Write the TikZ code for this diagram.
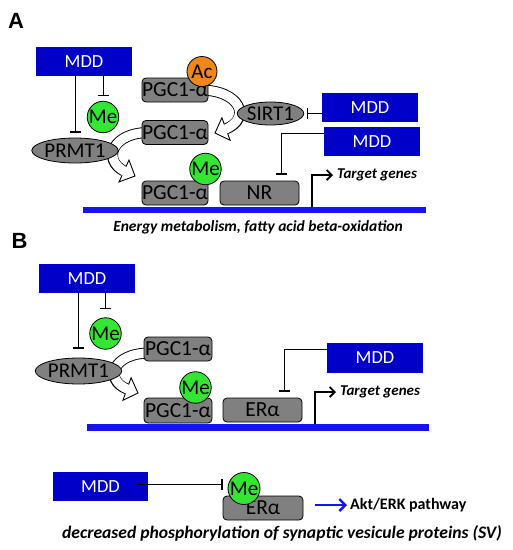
\documentclass[tikz,border=0pt]{standalone}
\usepackage{fontspec}
\setmainfont{Carlito}
\newfontfamily\labfont{Liberation Sans}
\usetikzlibrary{shapes.geometric, arrows.meta, calc}
\definecolor{mddblue}{RGB}{0,0,200}
\definecolor{lineblue}{RGB}{20,20,240}
\definecolor{boxgray}{RGB}{128,128,128}
\definecolor{megreen}{RGB}{50,230,50}
\definecolor{acorange}{RGB}{240,135,30}
\newcommand{\blockarr}[5]{%
  \draw[line width=11pt] #1 .. controls #2 and #3 .. #4;
  \filldraw[fill=white, line width=0.9pt, line join=miter] ($#4!12pt!90:#5$) -- #5 -- ($#4!12pt!-90:#5$) -- cycle;
  \draw[line width=9.2pt, white, shorten >=-1.2pt] #1 .. controls #2 and #3 .. #4;
}
\tikzset{
  mdd/.style={fill=mddblue, draw=none, text=white, minimum width=96pt, minimum height=29pt, inner sep=0pt, font=\fontsize{18.5}{18.5}\selectfont},
  pgc/.style={rounded corners=4pt, fill=boxgray, draw=black, line width=0.8pt, minimum width=66pt, minimum height=24pt, inner sep=0pt, font=\fontsize{21.5}{21.5}\selectfont},
  oval/.style={ellipse, fill=boxgray, draw=black, line width=0.8pt, inner sep=0pt, font=\fontsize{21}{21}\selectfont},
  mecirc/.style={circle, fill=megreen, draw=black, line width=0.8pt, minimum size=31pt, inner sep=0pt, font=\fontsize{21}{21}\selectfont},
  accirc/.style={circle, fill=acorange, draw=black, line width=0.8pt, minimum size=30pt, inner sep=0pt, font=\fontsize{21}{21}\selectfont},
  inh/.style={line width=1pt, -{Bar[width=11pt, line width=1.2pt]}},
  dna/.style={draw=lineblue, line width=6.5pt},
  tgarrow/.style={line width=1.8pt, -{Straight Barb[length=5pt, width=10pt, line width=1.8pt]}},
  tgtext/.style={anchor=west, inner sep=0pt, font=\fontsize{15}{15}\selectfont\bfseries\itshape},
  panellab/.style={inner sep=0pt, font=\fontsize{22}{22}\selectfont\labfont\bfseries},
}
\begin{document}
\begin{tikzpicture}[x=1pt, y=-1pt]
\useasboundingbox[fill=white] (0,0) rectangle (513,550);

% ---------------- Panel A ----------------
\node[panellab] (labA) at (16,21) {A};

\blockarr{(200,90)}{(240,90)}{(252,118)}{(226,129)}{(215,133)}
\blockarr{(150,132.5)}{(112,132)}{(102,160)}{(124,171)}{(135,176)}

\node[mdd] (mddA1) at (84,61.5) {MDD};
\node[oval, minimum width=74pt, minimum height=25pt] (prmtA) at (75,150.5) {PRMT1};
\node[pgc] (pgcA1) at (175,90) {PGC1-α};
\node[pgc] (pgcA2) at (175,132.5) {PGC1-α};
\node[pgc] (pgcA3) at (175,193) {PGC1-α};
\node[pgc, minimum width=79pt] (nrA) at (259.5,193) {NR};
\node[oval, minimum width=63pt, minimum height=23pt] (sirtA) at (270.5,113.5) {SIRT1};
\node[mdd] (mddA2) at (370,107.5) {MDD};
\node[mdd] (mddA3) at (372,141.5) {MDD};
\node[mecirc] (meA1) at (103,117) {Me};
\node[accirc] (acA) at (202,71.5) {Ac};
\node[mecirc] (meA2) at (205.5,169) {Me};

\draw[inh, shorten >=5pt] (prmtA.north |- mddA1.south) -- (prmtA.north);
\draw[inh, shorten >=4.5pt] (meA1.north |- mddA1.south) -- (meA1.north);
\draw[inh, shorten >=3pt] (mddA2.west |- sirtA) -- (sirtA.east);
\draw[inh] ([yshift=8pt]mddA3.west) -| ([xshift=21.5pt, yshift=6pt]nrA.north);

\coordinate (dnaA1) at (83,210);
\coordinate (dnaA2) at (426,210);
\draw[dna] (dnaA1) -- (dnaA2);
\coordinate (tgA) at (312,207);
\node[tgtext] (targetA) at (337,175) {Target genes};
\draw[tgarrow, shorten >=4pt] (tgA) |- (targetA.west);
\node[inner sep=0pt, font=\fontsize{15.5}{15.5}\selectfont\bfseries\itshape] (energy) at (258,227.5) {Energy metabolism, fatty acid beta-oxidation};

% ---------------- Panel B ----------------
\node[panellab] (labB) at (19.5,241) {B};

\blockarr{(150,353)}{(112,353)}{(104,380)}{(127,389)}{(138,393)}

\node[mdd] (mddB1) at (87,278.5) {MDD};
\node[oval, minimum width=73pt, minimum height=26pt] (prmtB) at (78.5,371) {PRMT1};
\node[pgc, minimum width=68pt] (pgcB1) at (178,349) {PGC1-α};
\node[pgc, minimum width=68pt, minimum height=25pt] (pgcB2) at (178,410.5) {PGC1-α};
\node[pgc, minimum width=79pt] (erB) at (262.5,410) {ERα};
\node[mdd, minimum height=30pt] (mddB2) at (375,358) {MDD};
\node[mecirc] (meB1) at (105.5,333.5) {Me};
\node[mecirc] (meB2) at (195.5,387.5) {Me};

\draw[inh, shorten >=9pt] (prmtB.north |- mddB1.south) -- (prmtB.north);
\draw[inh, shorten >=8pt] (meB1.north |- mddB1.south) -- (meB1.north);
\draw[inh] ([yshift=9pt]mddB2.west) -| ([xshift=21.5pt, yshift=6pt]erB.north);

\coordinate (dnaB1) at (87,427.5);
\coordinate (dnaB2) at (429,427.5);
\draw[dna, line width=7pt] (dnaB1) -- (dnaB2);
\coordinate (tgB) at (315,424);
\node[tgtext] (targetB) at (340,392) {Target genes};
\draw[tgarrow, shorten >=4pt] (tgB) |- (targetB.west);

% ---------------- Bottom ----------------
\node[mdd, minimum width=95pt] (mddC) at (100.5,486.5) {MDD};
\node[pgc, minimum width=80pt] (erC) at (263,508) {ERα};
\node[mecirc, minimum size=32pt] (meC) at (244,488.5) {Me};
\draw[inh] ([xshift=-10pt, yshift=2.5pt]mddC.east) -- ([yshift=2.5pt]mddC.east -| erC.west);
\node[anchor=west, inner sep=0pt, font=\fontsize{16}{16}\selectfont\bfseries] (akt) at (350,505) {Akt/ERK pathway};
\draw[draw=lineblue, line width=2.6pt, -{Straight Barb[length=6pt, width=12pt, line width=2.4pt]}] ([xshift=12pt, yshift=3pt]erC.east) -- ([xshift=-3pt]akt.west);
\node[inner sep=0pt, font=\fontsize{17.6}{17.6}\selectfont\bfseries\itshape] (decr) at (282,533) {decreased phosphorylation of synaptic vesicule proteins (SV)};
\end{tikzpicture}
\end{document}
